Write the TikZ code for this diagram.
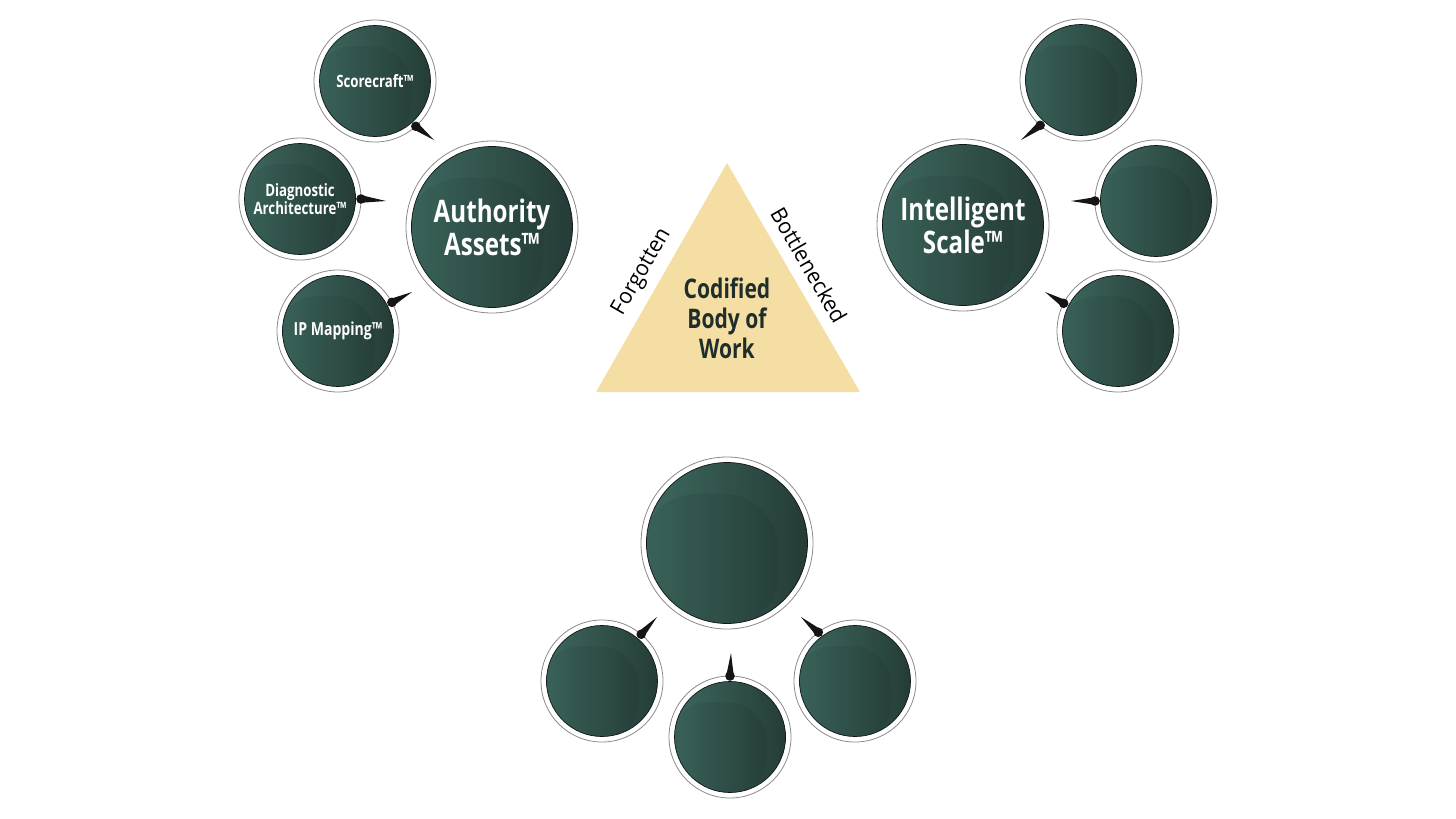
\documentclass[tikz,border=0pt]{standalone}
\usepackage{fontspec}
\newfontfamily\cf{Open Sans}[FakeStretch=0.78]
\newfontfamily\lf{Open Sans}[FakeStretch=0.96]
\usetikzlibrary{calc}
\definecolor{tealL}{HTML}{3E6A61}
\definecolor{tealD}{HTML}{243A35}
\definecolor{ringgray}{HTML}{8A8A8A}
\definecolor{sand}{HTML}{F5DEA4}
\definecolor{ink}{HTML}{1F2E2A}
\definecolor{dotc}{HTML}{151515}
\tikzset{
  bubble/.style={circle, inner sep=0pt, outer sep=0pt, minimum size=2*#1pt,
    draw=ringgray, line width=0.8pt, fill=white, text=white, align=center,
    font=\cf\bfseries,
    path picture={
      \shade[left color=tealL, right color=tealD]
        (path picture bounding box.center) circle[radius=#1pt-5.5pt];
      \begin{scope}
        \clip (path picture bounding box.center) circle[radius=#1pt-5.5pt];
        \fill[black, opacity=0.06, rounded corners=0.65*#1pt]
          ($(path picture bounding box.center)+(-#1pt,-#1pt)$) rectangle
          ($(path picture bounding box.center)+(0.6*#1pt,0.57*#1pt)$);
      \end{scope}
      \draw[line width=0.7pt, black!60!tealD]
        (path picture bounding box.center) circle[radius=#1pt-5.5pt];
    }},
  bigtxt/.style={font=\cf\bfseries\fontsize{31}{33}\selectfont},
  smalltxt/.style={font=\cf\bfseries\fontsize{17}{18}\selectfont},
  pointer/.style={fill=dotc},
  sidelabel/.style={font=\lf\fontsize{22}{22}\selectfont, text=black, inner sep=0pt},
  tritxt/.style={font=\cf\bfseries\fontsize{27}{30}\selectfont, text=ink, align=center}
}
\newcommand\mypointer[3]{%
  \fill[pointer] (#1.#2) -- ($(#1.#2)!3.8pt!90:(#3)$) -- (#3) -- ($(#1.#2)!3.8pt!-90:(#3)$) -- cycle;
  \fill[pointer] (#1.#2) circle[radius=4.8pt];
}
\begin{document}
\begin{tikzpicture}[x=1pt,y=-1pt]
\fill[white] (0,0) rectangle (1456,819);
\useasboundingbox (0,0) rectangle (1456,819);

% triangle
\coordinate (ta) at (727,163);
\coordinate (tl) at (596,392);
\coordinate (tr) at (860,392);
\fill[sand] (ta) -- (tl) -- (tr) -- cycle;
\node[tritxt] (cb) at (727,318) {Codified\\Body of\\Work};
\node[sidelabel, rotate=60] (fg) at (642,272) {Forgotten};
\node[sidelabel, rotate=-60] (bn) at (809,265) {Bottlenecked};

% left group
\node[bubble=86, bigtxt] (aa) at (492,227) {Authority\\Assets™};
\node[bubble=61, smalltxt] (sc) at (375,81) {Scorecraft™};
\node[bubble=61, smalltxt] (dg) at (300,199) {Diagnostic\\Architecture™};
\node[bubble=61, smalltxt, font=\cf\bfseries\fontsize{18}{18}\selectfont] (ip) at (338,331) {IP Mapping™};

% right group
\node[bubble=86, bigtxt] (is) at (963,225) {Intelligent\\Scale™};
\node[bubble=61] (r1) at (1081,80) {};
\node[bubble=61] (r2) at (1156,201) {};
\node[bubble=61] (r3) at (1118,331) {};

% bottom group
\node[bubble=86] (bb) at (727,543) {};
\node[bubble=61] (b1) at (602,681) {};
\node[bubble=61] (b2) at (730,737) {};
\node[bubble=61] (b3) at (855,681) {};

% pointer tips
\coordinate (tsc) at (434,140);
\coordinate (tdg) at (386,201);
\coordinate (tip) at (412,292);
\coordinate (tr1) at (1021,140);
\coordinate (tr2) at (1071,201);
\coordinate (tr3) at (1045,292);
\coordinate (tb1) at (657,617);
\coordinate (tb2) at (731,653);
\coordinate (tb3) at (801,617);

\mypointer{sc}{-48}{tsc}
\mypointer{dg}{0}{tdg}
\mypointer{ip}{28}{tip}
\mypointer{r1}{-132}{tr1}
\mypointer{r2}{180}{tr2}
\mypointer{r3}{153}{tr3}
\mypointer{b1}{50}{tb1}
\mypointer{b2}{90}{tb2}
\mypointer{b3}{127}{tb3}
\end{tikzpicture}
\end{document}
